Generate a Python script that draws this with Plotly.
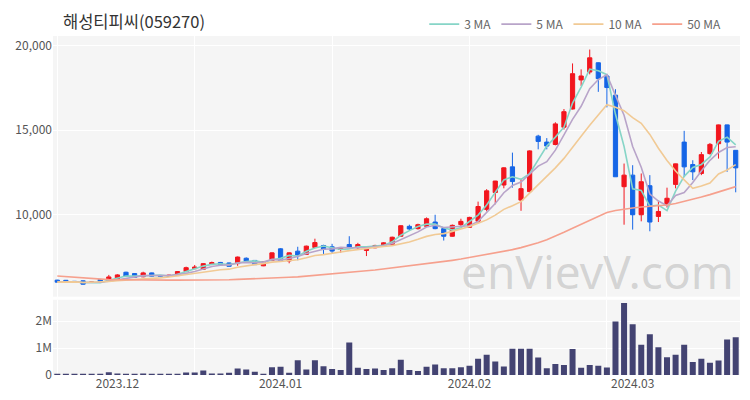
import pandas as pd
import plotly.graph_objects as go

# ---------------- data ----------------
holidays = ["2023-12-25", "2023-12-29", "2024-01-01", "2024-02-09", "2024-02-12", "2024-03-01"]
dates = [d for d in pd.bdate_range("2023-11-22", "2024-03-20")
         if d.strftime("%Y-%m-%d") not in holidays]

open_ = [6100, 6090, 6030, 6060, 5970, 6140, 6020, 6140, 6570, 6490,
         6300, 6530, 6350, 6330, 6370, 6610, 6780, 6745, 7060, 7150,
         7120, 7080, 7400, 7270, 6950, 7260, 7960, 7240, 7820, 7630,
         8040, 8157, 8078, 7920, 8216, 8020, 7863, 8020, 8118, 8216,
         8706, 9293, 9157, 9294, 9549, 9157, 8705, 9392, 9235, 9600,
         10300, 11300, 11745, 12824, 10850, 11353, 14646, 14293, 14150, 15176,
         16254, 17980, 18450, 19000, 18215, 17078, 11646, 12332, 9980, 11704,
         9881, 10567, 11783, 14293, 12959, 12430, 13607, 14195, 15313, 13803]
high_ = [6120, 6110, 6040, 6080, 6000, 6160, 6410, 6450, 6600, 6510,
         6600, 6550, 6370, 6420, 6630, 6900, 7000, 7100, 7200, 7180,
         7140, 7500, 7450, 7290, 7230, 7740, 8000, 7740, 8080, 8150,
         8560, 8200, 8255, 8050, 8706, 8314, 8050, 8200, 8350, 8680,
         9350, 9390, 9450, 9823, 9980, 9200, 9400, 9745, 9860, 10760,
         11500, 11990, 12800, 13667, 12120, 13800, 14725, 14529, 15470, 16254,
         18960, 18607, 19784, 19020, 18313, 17431, 13019, 12921, 12430, 12331,
         10803, 11587, 13010, 14960, 13214, 13705, 14240, 15330, 15330, 13820]
low_ = [5960, 5980, 5990, 5830, 5960, 5990, 6000, 6120, 6320, 6240,
        6270, 6300, 6320, 6300, 6350, 6580, 6750, 6720, 7020, 6980,
        6900, 6950, 7200, 7000, 6930, 7240, 7240, 7100, 7280, 7600,
        8020, 7627, 7667, 7720, 7990, 7920, 7530, 7990, 8080, 8200,
        8680, 9040, 9100, 9250, 9120, 8450, 8680, 9235, 9200, 9490,
        10180, 10600, 11550, 11588, 10215, 11300, 13862, 13862, 14100, 15038,
        16230, 17627, 18313, 17274, 16352, 12234, 9391, 9097, 9590, 9000,
        9548, 10410, 11547, 12234, 12038, 12332, 13550, 13312, 12528, 11312]
close_ = [5980, 6000, 6010, 5860, 5990, 6010, 6290, 6410, 6340, 6260,
          6530, 6330, 6330, 6390, 6610, 6840, 6880, 7080, 7140, 7000,
          6920, 7470, 7240, 7020, 7200, 7720, 7260, 7720, 7590, 8118,
          8330, 7922, 7824, 8020, 8020, 8216, 8020, 8157, 8314, 8647,
          9330, 9137, 9392, 9745, 9157, 8705, 9352, 9588, 9823, 10470,
          11400, 11980, 12765, 11950, 11530, 13770, 14333, 14058, 15372, 16097,
          18352, 18215, 19294, 18058, 17529, 12234, 12332, 9980, 11940, 9548,
          10175, 10960, 13000, 12822, 12528, 13548, 14156, 15313, 14293, 12763]
volume = [0.02, 0.015, 0.01, 0.02, 0.01, 0.05, 0.10, 0.06, 0.05, 0.05,
          0.06, 0.015, 0.01, 0.015, 0.04, 0.09, 0.09, 0.17, 0.06, 0.06,
          0.08, 0.24, 0.20, 0.12, 0.05, 0.29, 0.31, 0.08, 0.55, 0.20,
          0.55, 0.33, 0.22, 0.19, 1.21, 0.27, 0.22, 0.24, 0.19, 0.25,
          0.57, 0.19, 0.15, 0.31, 0.39, 0.25, 0.25, 0.29, 0.34, 0.60,
          0.75, 0.50, 0.32, 0.98, 0.98, 0.98, 0.65, 0.25, 0.41, 0.37,
          0.97, 0.27, 0.37, 0.34, 0.28, 1.99, 2.68, 1.89, 1.13, 1.52,
          1.03, 0.66, 0.75, 1.13, 0.48, 0.60, 0.46, 0.54, 1.32, 1.40]
volume = [v * 1_000_000 for v in volume]
ma50 = [6350, 6310, 6265, 6220, 6190, 6160, 6130, 6120, 6110, 6110,
        6105, 6105, 6100, 6100, 6100, 6100, 6105, 6105, 6110, 6115,
        6125, 6145, 6160, 6175, 6200, 6225, 6250, 6270, 6295, 6335,
        6380, 6425, 6470, 6520, 6560, 6605, 6660, 6705, 6765, 6825,
        6880, 6940, 7000, 7060, 7130, 7205, 7275, 7350, 7440, 7530,
        7620, 7705, 7805, 7910, 8030, 8160, 8325, 8500, 8705, 8940,
        9175, 9410, 9645, 9880, 10120, 10235, 10325, 10380, 10440, 10470,
        10510, 10560, 10650, 10765, 10895, 11030, 11175, 11325, 11470, 11650]

title_text = "해성티피씨(059270)"
price_ticks = [10000, 15000, 20000]
vol_ticks = [0, 1_000_000, 2_000_000]
vol_ticktext = ["0", "1M", "2M"]

# ---------------- derived ----------------
n = len(dates)
xs = list(range(n))
closes = pd.Series(close_)
ma3 = closes.rolling(3, min_periods=1).mean()
ma5 = closes.rolling(5, min_periods=1).mean()
ma10 = closes.rolling(10, min_periods=1).mean()
month_starts = [i for i in range(1, n) if dates[i].month != dates[i - 1].month]
month_text = [dates[i].strftime("%Y.%m") for i in month_starts]
grid_idx = list(range(0, n, 16))
hover = [d.strftime("%Y-%m-%d") for d in dates]

RED = "#f2161e"
BLUE = "#1565e6"
FONT = "Noto Sans CJK KR"

fig = go.Figure()
for name, vals, col in [("3 MA", ma3, "#86d5c7"), ("5 MA", ma5, "#b8a4c9"),
                        ("10 MA", ma10, "#f1ca95"), ("50 MA", ma50, "#f6a08d")]:
    fig.add_trace(go.Scatter(x=xs, y=list(vals), mode="lines", name=name,
                             line=dict(color=col, width=1.6), hoverinfo="skip",
                             xaxis="x", yaxis="y"))

fig.add_trace(go.Candlestick(
    x=xs, open=open_, high=high_, low=low_, close=close_, text=hover,
    increasing=dict(line=dict(color=RED, width=1), fillcolor=RED),
    decreasing=dict(line=dict(color=BLUE, width=1), fillcolor=BLUE),
    showlegend=False, xaxis="x", yaxis="y"))

fig.add_trace(go.Bar(x=xs, y=volume, marker_color="#434372", marker_line_width=0,
                     width=0.7, showlegend=False, xaxis="x2", yaxis="y2",
                     hovertext=hover))

axis_common = dict(range=[-0.5, n - 0.5], showgrid=False, zeroline=False,
                   ticks="", showline=False,
                   minor=dict(tickvals=grid_idx, showgrid=True, gridcolor="#ffffff",
                              gridwidth=1, ticks=""))

fig.update_layout(
    width=750, height=400,
    margin=dict(l=53, r=10, t=33, b=25),
    paper_bgcolor="#ffffff", plot_bgcolor="#f5f5f5",
    font=dict(family=FONT, size=12, color="#555555"),
    title=dict(text=title_text, x=63 / 750, xanchor="left", y=1 - 22 / 400,
               yanchor="middle", font=dict(family=FONT, size=16.5, color="#333333")),
    showlegend=True,
    legend=dict(orientation="h", x=0.98, xanchor="right", y=1.035, yanchor="middle",
                bgcolor="rgba(0,0,0,0)", font=dict(size=12, color="#666666"),
                itemwidth=30, tracegroupgap=0),
    xaxis=dict(domain=[0, 1], anchor="y", showticklabels=False,
               rangeslider=dict(visible=False), **axis_common),
    xaxis2=dict(domain=[0, 1], anchor="y2", matches="x", tickvals=month_starts,
                ticktext=month_text, tickfont=dict(size=12, color="#555555"),
                **axis_common),
    yaxis=dict(domain=[0.231, 1], range=[5118, 20588], tickvals=price_ticks,
               tickformat=",", gridcolor="#ffffff", zeroline=False, ticks="",
               tickfont=dict(size=12, color="#555555")),
    yaxis2=dict(domain=[0, 0.222], range=[0, 2_800_000], tickvals=vol_ticks,
                ticktext=vol_ticktext, gridcolor="#ffffff", zeroline=False, ticks="",
                tickfont=dict(size=12, color="#555555")),
    bargap=0.3,
)

fig.add_annotation(text="enVievV.com", xref="paper", yref="paper",
                   x=(597 - 53) / 687, xanchor="center",
                   y=(375 - 270) / 342, yanchor="middle", showarrow=False,
                   font=dict(family="Noto Sans", size=46, color="rgba(140,140,140,0.33)"))

fig.write_html("out.html", config={"displayModeBar": False},
               post_script="document.body.style.margin='0';")
